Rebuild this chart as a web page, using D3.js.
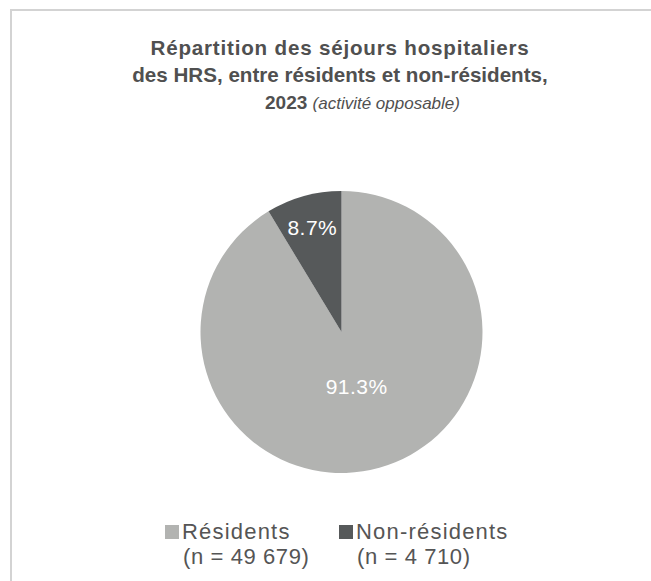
<!DOCTYPE html>
<html lang="fr">
<head>
    <meta charset="UTF-8">
    <title>Répartition des séjours hospitaliers</title>
    <script src="https://d3js.org/d3.v7.min.js"></script>
    <style>
        body { margin: 0; background: #fff; }
        text { font-family: "Liberation Sans", Arial, sans-serif; }
    </style>
</head>
<body>
    <svg id="chart"></svg>
    <script>
        // data
        const categories = ['Résidents', 'Non-résidents'];
        const counts = [49679, 4710];
        const shares = [91.3, 8.7];
        const colors = ['#b2b3b1', '#56595a'];

        const titleLines = ['Répartition des séjours hospitaliers', 'des HRS, entre résidents et non-résidents,'];

        const width = 651, height = 581;
        const svg = d3.select('#chart').attr('width', width).attr('height', height);

        // frame (only left and top edges visible)
        svg.append('path')
            .attr('d', `M11,${height} V10 H${width}`)
            .attr('fill', 'none')
            .attr('stroke', '#d3d3d3')
            .attr('stroke-width', 2);

        // title
        const title = svg.append('text')
            .attr('text-anchor', 'middle')
            .attr('fill', '#505050')
            .attr('font-size', 20.6)
            .attr('font-weight', 'bold');
        const spacing = [0.8, 0];
        titleLines.forEach((t, i) => {
            title.append('tspan')
                .attr('x', 340).attr('y', 55 + i * 27)
                .attr('letter-spacing', spacing[i])
                .text(t);
        });
        const last = svg.append('text')
            .attr('x', 265).attr('y', 109)
            .attr('fill', '#505050')
            .attr('font-size', 19);
        last.append('tspan').attr('font-weight', 'bold').text('2023 ');
        last.append('tspan').attr('font-style', 'italic').attr('font-size', 17).text('(activité opposable)');

        // pie
        const cx = 341.5, cy = 332, R = 141;
        const pie = d3.pie().sort(null).value(d => d)(counts);
        const arc = d3.arc().innerRadius(0).outerRadius(R);

        const g = svg.append('g').attr('transform', `translate(${cx},${cy})`);
        g.selectAll('path.slice')
            .data(pie)
            .enter().append('path')
            .attr('class', 'slice')
            .attr('d', arc)
            .attr('fill', (d, i) => colors[i]);

        g.selectAll('text.lbl')
            .data(pie)
            .enter().append('text')
            .attr('class', 'lbl')
            .attr('transform', (d, i) => {
                const r = shares[i] < 50 ? R * 0.77 : R * 0.4;
                const c = d3.arc().innerRadius(r).outerRadius(r).centroid(d);
                return `translate(${c[0]},${c[1]})`;
            })
            .attr('text-anchor', 'middle')
            .attr('dy', '0.36em')
            .attr('fill', '#fff')
            .attr('font-size', 21)
            .attr('letter-spacing', 0.5)
            .text((d, i) => d3.format('.1f')(shares[i]) + '%');

        // legend
        const fmt = n => d3.format(',')(n).replace(/,/g, ' ');
        const legX = [165, 339];
        const leg = svg.selectAll('g.leg')
            .data(categories)
            .enter().append('g')
            .attr('class', 'leg')
            .attr('transform', (d, i) => `translate(${legX[i]},0)`);
        leg.append('rect')
            .attr('x', 0).attr('y', 525)
            .attr('width', 14).attr('height', 14)
            .attr('fill', (d, i) => colors[i]);
        leg.append('text')
            .attr('x', 17).attr('y', 539)
            .attr('fill', '#555')
            .attr('font-size', 22)
            .attr('letter-spacing', 1.2)
            .text(d => d);
        leg.append('text')
            .attr('x', 18).attr('y', 564)
            .attr('fill', '#555')
            .attr('font-size', 22)
            .attr('letter-spacing', 0.6)
            .text((d, i) => `(n = ${fmt(counts[i])})`);
    </script>
</body>
</html>
